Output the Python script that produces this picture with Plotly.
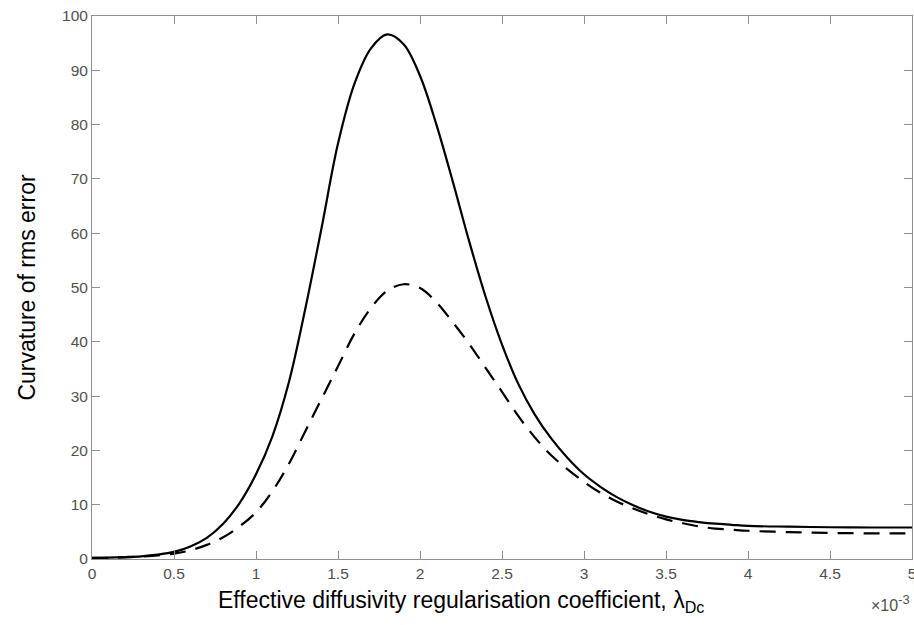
import plotly.graph_objects as go

# Data (x in units of 1e-3)
x_solid = [0, 0.1, 0.2, 0.3, 0.4, 0.5, 0.6, 0.7, 0.8, 0.9, 1.0, 1.1, 1.2, 1.3, 1.4, 1.5,
           1.6, 1.7, 1.8, 1.9, 2.0, 2.1, 2.2, 2.3, 2.4, 2.5, 2.6, 2.7, 2.8, 2.9, 3.0,
           3.1, 3.2, 3.3, 3.4, 3.5, 3.6, 3.7, 3.8, 3.9, 4.0, 4.25, 4.5, 4.75, 5.0]
y_solid = [0.2, 0.25, 0.35, 0.5, 0.8, 1.3, 2.3, 3.9, 6.5, 10.3, 15.6, 22.6, 32.5, 46.0,
           61.0, 76.5, 87.5, 94.0, 96.6, 94.8, 89.0, 80.0, 69.5, 58.5, 48.3, 39.5, 32.2,
           26.6, 22.2, 18.6, 15.6, 13.3, 11.4, 9.9, 8.7, 7.8, 7.2, 6.8, 6.5, 6.3, 6.1,
           5.95, 5.85, 5.8, 5.8]

x_dashed = [0, 0.1, 0.2, 0.3, 0.4, 0.5, 0.6, 0.7, 0.8, 0.9, 1.0, 1.1, 1.2, 1.3, 1.4, 1.5,
            1.6, 1.7, 1.8, 1.9, 2.0, 2.1, 2.2, 2.3, 2.4, 2.5, 2.6, 2.7, 2.8, 2.9, 3.0,
            3.1, 3.2, 3.3, 3.4, 3.5, 3.6, 3.7, 3.8, 3.9, 4.0, 4.25, 4.5, 4.75, 5.0]
y_dashed = [0.2, 0.22, 0.3, 0.45, 0.65, 1.0, 1.6, 2.6, 4.0, 6.0, 8.6, 12.5, 17.5, 23.5,
            29.5, 35.5, 41.5, 46.2, 49.4, 50.6, 49.9, 47.3, 43.6, 39.6, 35.2, 30.8, 26.3,
            22.4, 19.1, 16.5, 14.2, 12.2, 10.6, 9.3, 8.2, 7.3, 6.6, 6.0, 5.6, 5.4, 5.2,
            4.95, 4.8, 4.72, 4.7]

x_ticks = [0, 0.5, 1, 1.5, 2, 2.5, 3, 3.5, 4, 4.5, 5]
x_ticklabels = ["0", "0.5", "1", "1.5", "2", "2.5", "3", "3.5", "4", "4.5", "5"]
y_ticks = [0, 10, 20, 30, 40, 50, 60, 70, 80, 90, 100]

FONT = "Liberation Sans, Arial, Helvetica, sans-serif"
AXIS_COLOR = "#8f8f8f"
TICK_FONT_COLOR = "#505050"

fig = go.Figure()
fig.add_trace(go.Scatter(x=x_solid, y=y_solid, mode="lines",
                         line=dict(color="black", width=2.2, shape="spline", smoothing=1.0),
                         showlegend=False, hoverinfo="skip"))
fig.add_trace(go.Scatter(x=x_dashed, y=y_dashed, mode="lines",
                         line=dict(color="black", width=2.2, dash="16px,10px",
                                   shape="spline", smoothing=1.0),
                         showlegend=False, hoverinfo="skip"))

fig.update_layout(
    width=914, height=625,
    margin=dict(l=92, r=2, t=16, b=66),
    paper_bgcolor="white", plot_bgcolor="white",
    font=dict(family=FONT, color="black"),
    xaxis=dict(range=[0, 5], tickvals=x_ticks, ticktext=x_ticklabels, automargin=False,
               showgrid=False, zeroline=False, showline=True, linecolor=AXIS_COLOR,
               linewidth=1, mirror="ticks", ticks="inside", ticklen=8, tickwidth=1,
               tickcolor=AXIS_COLOR, tickfont=dict(size=15.5, color=TICK_FONT_COLOR),
               ticklabeloverflow="allow"),
    yaxis=dict(range=[0, 100], tickvals=y_ticks, automargin=False,
               showgrid=False, zeroline=False, showline=True, linecolor=AXIS_COLOR,
               linewidth=1, mirror="ticks", ticks="inside", ticklen=8, tickwidth=1,
               tickcolor=AXIS_COLOR, tickfont=dict(size=15.5, color=TICK_FONT_COLOR),
               ticklabeloverflow="allow",
               title=dict(text="Curvature of rms error",
                          font=dict(size=23, color="black"), standoff=19)),
)

# x-axis label (placed as in the reference, slightly left of the axis centre)
fig.add_annotation(text="Effective diffusivity regularisation coefficient, λ<sub>Dc</sub>",
                   xref="paper", yref="paper", x=0.45, y=0, xanchor="center",
                   yanchor="top", yshift=-26, showarrow=False,
                   font=dict(family=FONT, size=23, color="black"))

fig.add_annotation(text="×10<sup><span style='font-size:13px'>-3</span></sup>",
                   xref="paper", yref="paper",
                   x=0.947, y=0, xanchor="left", yanchor="top", yshift=-31,
                   showarrow=False, font=dict(family=FONT, size=16, color=TICK_FONT_COLOR))

fig.write_html("out.html", config={"displayModeBar": False},
               post_script="document.body.style.margin='0';")
